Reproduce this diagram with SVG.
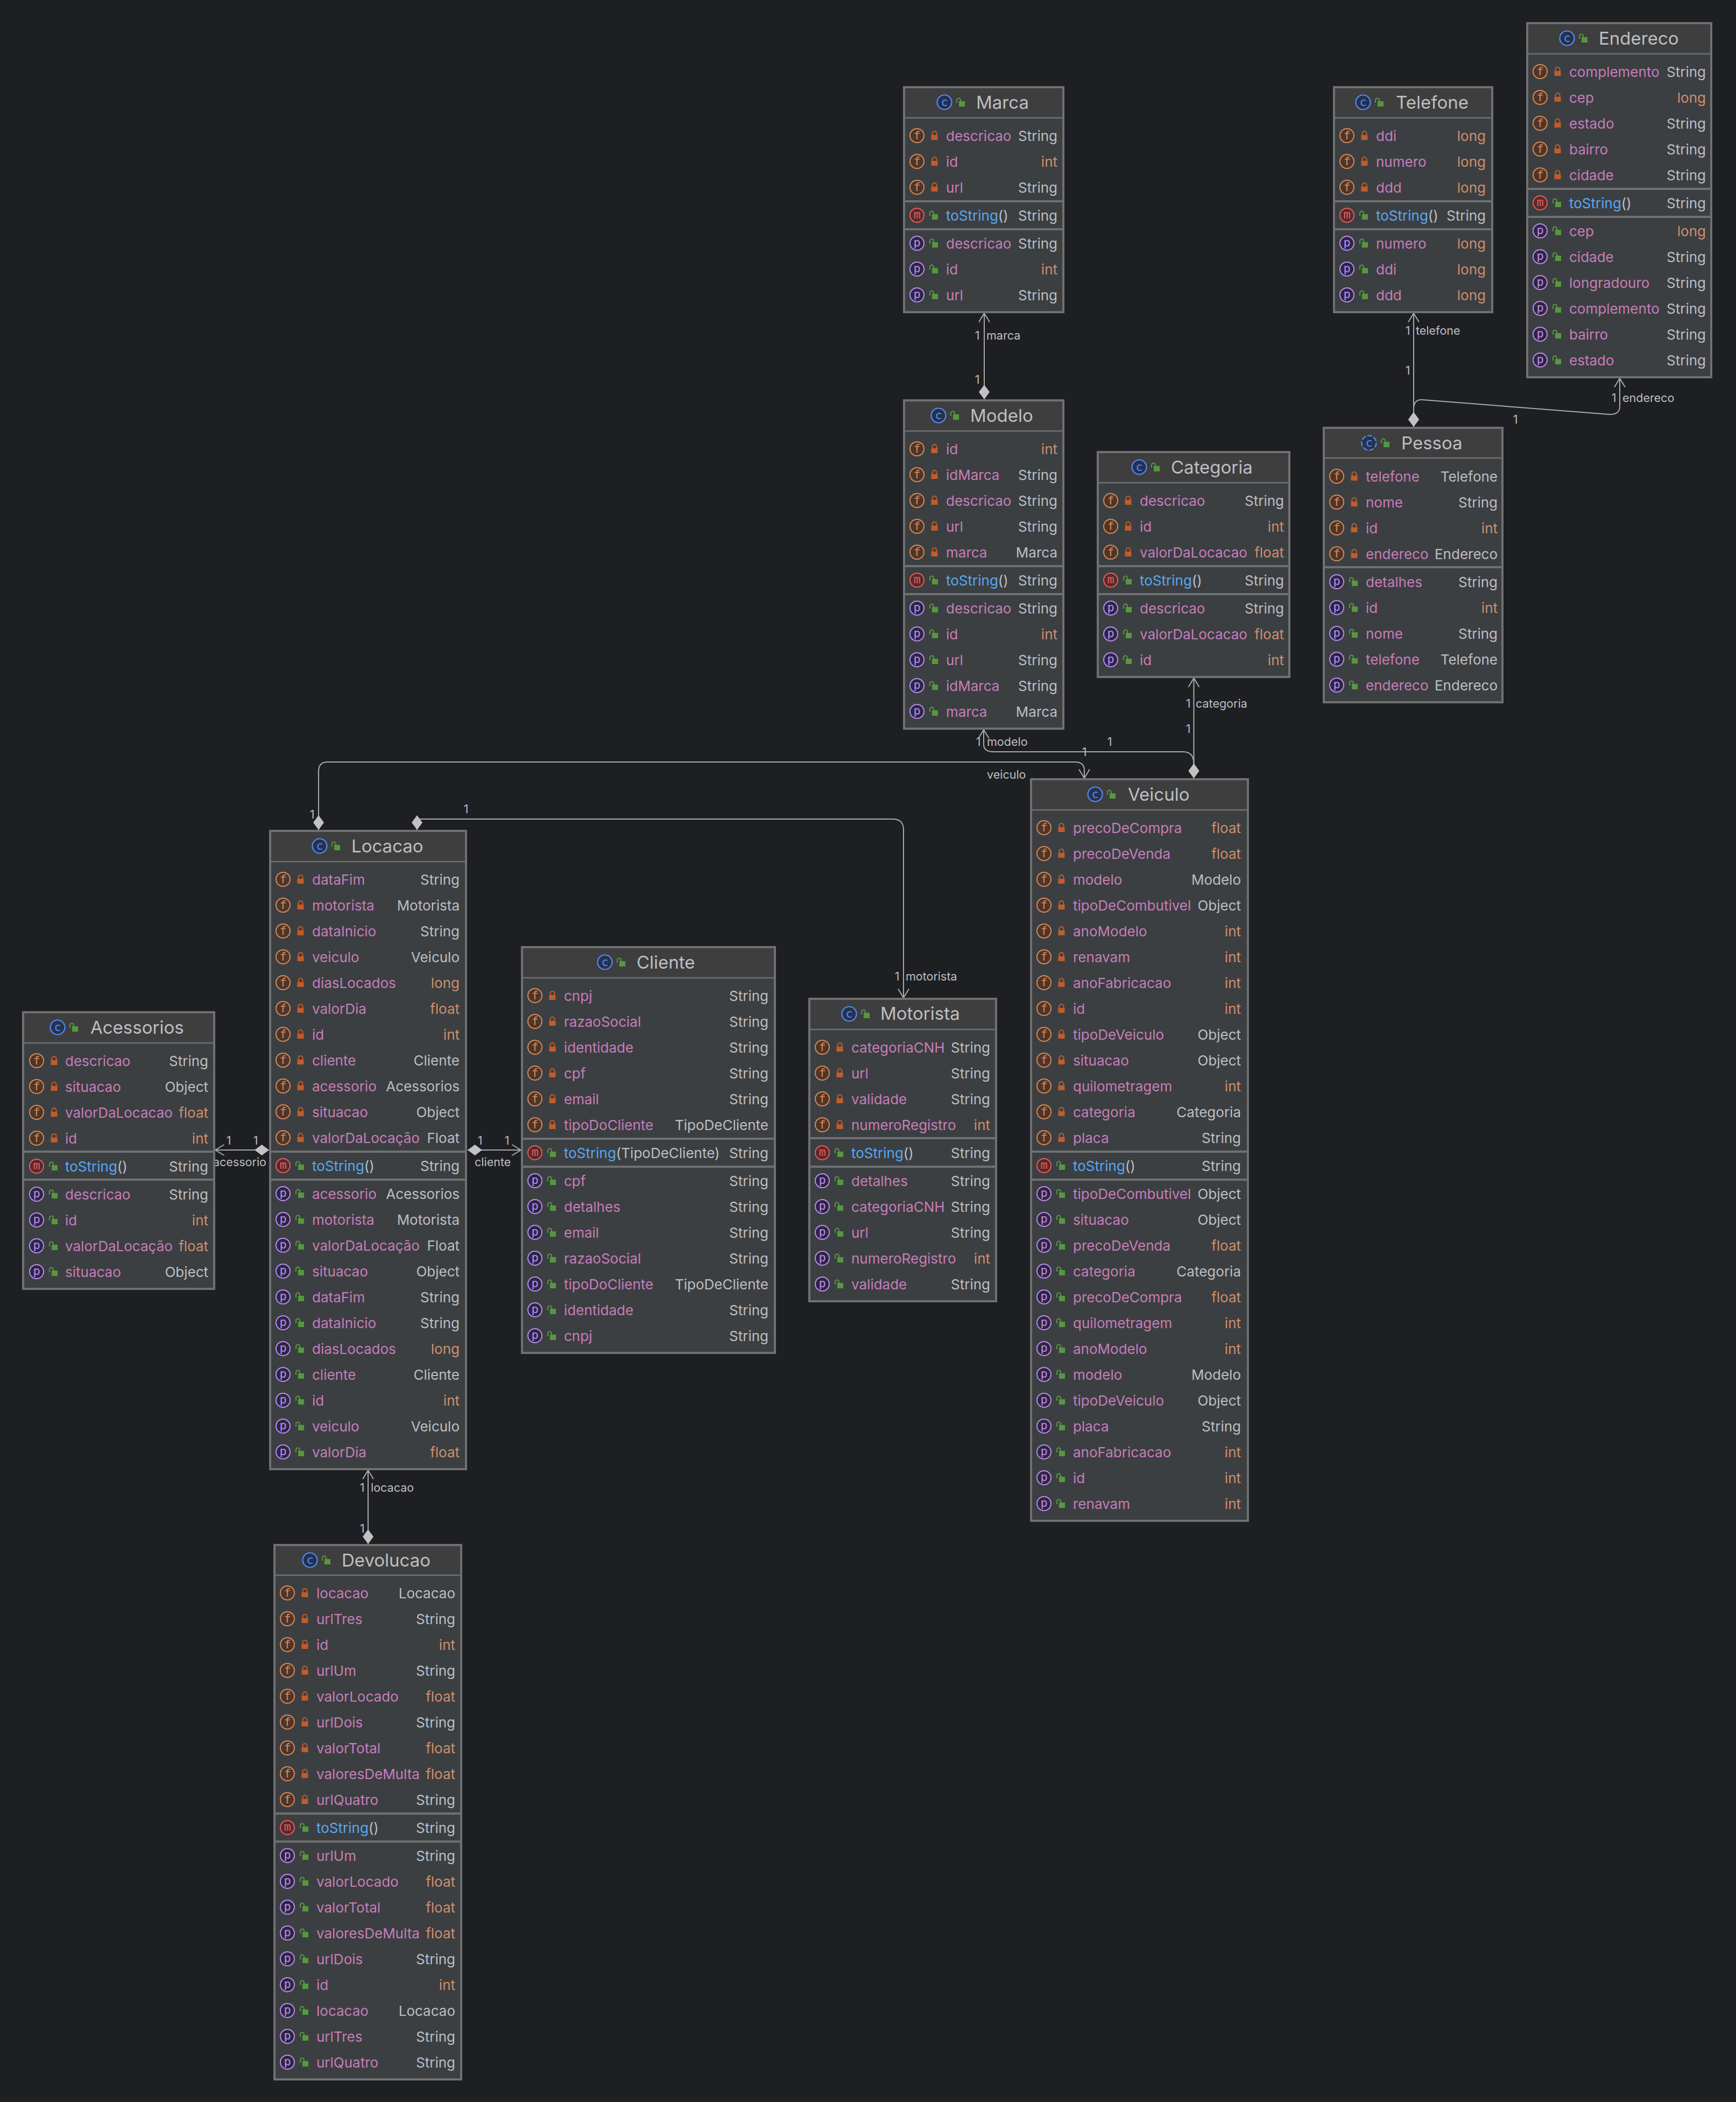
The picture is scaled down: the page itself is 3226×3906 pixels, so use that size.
<svg xmlns="http://www.w3.org/2000/svg" width="3226" height="3906" viewBox="0 0 3226 3906">
<style>
text{font-family:Inter,"Liberation Sans",sans-serif}
.b{fill:#3c3f41;stroke:#6f7072;stroke-width:4}
.h{fill:#3e3e3e}
.s{stroke:#6f7072;stroke-width:4;fill:none}
.s0{stroke:#6f7072;stroke-width:2.5;fill:none}
.ti{font-size:33px;fill:#bcbec4}
.n{font-size:26px;fill:#c77dbb}
.f{font-size:26px;fill:#56a8f5}
.pa{fill:#bcbec4}
.t{font-size:26px;fill:#bcbec4;text-anchor:end}
.o{font-size:26px;fill:#cf8e6d;text-anchor:end}
.l{font-size:21.5px;fill:#bcbec4}
.c{text-anchor:middle}
.ic{font-family:"DejaVu Sans Mono",monospace;font-size:22px;text-anchor:middle}
.e{fill:none;stroke:#a9aaac;stroke-width:2;marker-start:url(#ar);marker-end:url(#di)}
</style>
<defs>
<marker id="ar" markerUnits="userSpaceOnUse" markerWidth="19" markerHeight="24" refX="17.5" refY="12" orient="auto-start-reverse"><path d="M1 2 L17.5 12 L1 22" fill="none" stroke="#a9aaac" stroke-width="2"/></marker>
<marker id="di" markerUnits="userSpaceOnUse" markerWidth="28" markerHeight="22" refX="27" refY="11" orient="auto"><polygon points="0,11 13.5,1 27,11 13.5,21" fill="#c2c2c2"/></marker>
<g id="lock"><rect x="-6" y="-1" width="12" height="9" fill="#c15c2b"/><path d="M-4 -1 V-4 A4 4 0 0 1 4 -4 V-1" fill="none" stroke="#c15c2b" stroke-width="2"/></g>
<g id="un"><rect x="-3" y="-2" width="11" height="10" fill="#55983f"/><path d="M-7 1 V-4 A3.5 3.5 0 0 1 0 -4 V-2" fill="none" stroke="#55983f" stroke-width="2"/></g>
<g id="fr"><circle cx="26" cy="0" r="13" fill="#4f3529" stroke="#d28a5c" stroke-width="2"/><text class="ic" x="26" y="7" fill="#d28a5c">f</text><use href="#lock" x="58.5"/></g>
<g id="mr"><circle cx="26" cy="0" r="13" fill="#562a2c" stroke="#e55c5c" stroke-width="2"/><text class="ic" x="26" y="6" fill="#e55c5c">m</text><use href="#un" x="57"/></g>
<g id="pr"><circle cx="26" cy="0" r="13" fill="#2f2541" stroke="#b88cf0" stroke-width="2"/><text class="ic" x="26" y="6" fill="#b88cf0">p</text><use href="#un" x="57"/></g>
<g id="cl"><circle r="13.5" fill="#25324d" stroke="#548af7" stroke-width="2.2"/><text class="ic" y="7" fill="#548af7">c</text><use href="#un" x="30"/></g>
<g id="ab"><circle r="13.5" fill="#25324d" stroke="#548af7" stroke-width="2.2" stroke-dasharray="9 3"/><text class="ic" y="7" fill="#548af7">c</text><use href="#un" x="30"/></g>
</defs>
<rect width="3226" height="3906" fill="#1e1f22"/>
<g id="connectors">
<path class="e" d="M1829 582 V742"/>
<path class="e" d="M2218.5 1260 V1446"/>
<path class="e" d="M1828 1356 V1383 Q1828 1397 1846 1397 H2199 Q2218.5 1397 2218.5 1420 V1446"/>
<path class="e" d="M2015 1446 V1432 Q2015 1416 1998 1416 H608 Q592 1416 592 1434 V1542"/>
<path class="e" d="M1679 1854 V1542 Q1679 1522 1659 1522 H775 V1542"/>
<path class="e" d="M2627 582 V793"/>
<path class="e" d="M3010 703 V755 Q3010 771 2990 770 L2645 743 Q2627 741 2627 760 V793"/>
<path class="e" d="M400 2137 H500"/>
<path class="e" d="M968 2137 H869"/>
<path class="e" d="M684 2732 V2869"/>
<text class="l c" x="1816" y="631">1</text><text class="l" x="1833" y="631">marca</text><text class="l c" x="1816" y="713">1</text>
<text class="l c" x="2208" y="1315">1</text><text class="l" x="2222" y="1315">categoria</text><text class="l c" x="2208" y="1362">1</text>
<text class="l c" x="1818" y="1386">1</text><text class="l" x="1834" y="1386">modelo</text><text class="l c" x="2062" y="1386">1</text>
<text class="l c" x="2015" y="1405">1</text><text class="l" x="1834" y="1447">veiculo</text><text class="l c" x="580" y="1521">1</text>
<text class="l c" x="866" y="1511">1</text><text class="l c" x="1667" y="1822">1</text><text class="l" x="1683" y="1822">motorista</text>
<text class="l c" x="2616" y="622">1</text><text class="l" x="2631" y="622">telefone</text><text class="l c" x="2616" y="696">1</text>
<text class="l c" x="2999" y="747">1</text><text class="l" x="3015" y="747">endereco</text><text class="l c" x="2816" y="787">1</text>
<text class="l c" x="425" y="2127">1</text><text class="l c" x="475" y="2127">1</text><text class="l" x="396" y="2167">acessorio</text>
<text class="l c" x="892" y="2127">1</text><text class="l c" x="942" y="2127">1</text><text class="l" x="882" y="2167">cliente</text>
<text class="l c" x="673" y="2772">1</text><text class="l" x="689" y="2772">locacao</text><text class="l c" x="673" y="2848">1</text>
</g>
<g id="marca"><rect class="b" x="1680" y="162" width="296" height="418"/><rect class="h" x="1682" y="164" width="292" height="55"/><path class="s0" d="M1680 219 H1976"/><path class="s" d="M1680 374 H1976 M1680 426 H1976"/>
<use href="#cl" x="1755" y="190"/><text class="ti" x="1814" y="202">Marca</text>
<use href="#fr" x="1678" y="252"/><text class="n" x="1758" y="262">descricao</text><text class="t" x="1965" y="262">String</text>
<use href="#fr" x="1678" y="300"/><text class="n" x="1758" y="310">id</text><text class="o" x="1965" y="310">int</text>
<use href="#fr" x="1678" y="348"/><text class="n" x="1758" y="358">url</text><text class="t" x="1965" y="358">String</text>
<use href="#mr" x="1678" y="400"/><text class="f" x="1758" y="410">toString<tspan class="pa">()</tspan></text><text class="t" x="1965" y="410">String</text>
<use href="#pr" x="1678" y="452"/><text class="n" x="1758" y="462">descricao</text><text class="t" x="1965" y="462">String</text>
<use href="#pr" x="1678" y="500"/><text class="n" x="1758" y="510">id</text><text class="o" x="1965" y="510">int</text>
<use href="#pr" x="1678" y="548"/><text class="n" x="1758" y="558">url</text><text class="t" x="1965" y="558">String</text>
</g>
<g id="modelo"><rect class="b" x="1680" y="744" width="296" height="610"/><rect class="h" x="1682" y="746" width="292" height="55"/><path class="s0" d="M1680 801 H1976"/><path class="s" d="M1680 1052 H1976 M1680 1104 H1976"/>
<use href="#cl" x="1744" y="772"/><text class="ti" x="1803" y="784">Modelo</text>
<use href="#fr" x="1678" y="834"/><text class="n" x="1758" y="844">id</text><text class="o" x="1965" y="844">int</text>
<use href="#fr" x="1678" y="882"/><text class="n" x="1758" y="892">idMarca</text><text class="t" x="1965" y="892">String</text>
<use href="#fr" x="1678" y="930"/><text class="n" x="1758" y="940">descricao</text><text class="t" x="1965" y="940">String</text>
<use href="#fr" x="1678" y="978"/><text class="n" x="1758" y="988">url</text><text class="t" x="1965" y="988">String</text>
<use href="#fr" x="1678" y="1026"/><text class="n" x="1758" y="1036">marca</text><text class="t" x="1965" y="1036">Marca</text>
<use href="#mr" x="1678" y="1078"/><text class="f" x="1758" y="1088">toString<tspan class="pa">()</tspan></text><text class="t" x="1965" y="1088">String</text>
<use href="#pr" x="1678" y="1130"/><text class="n" x="1758" y="1140">descricao</text><text class="t" x="1965" y="1140">String</text>
<use href="#pr" x="1678" y="1178"/><text class="n" x="1758" y="1188">id</text><text class="o" x="1965" y="1188">int</text>
<use href="#pr" x="1678" y="1226"/><text class="n" x="1758" y="1236">url</text><text class="t" x="1965" y="1236">String</text>
<use href="#pr" x="1678" y="1274"/><text class="n" x="1758" y="1284">idMarca</text><text class="t" x="1965" y="1284">String</text>
<use href="#pr" x="1678" y="1322"/><text class="n" x="1758" y="1332">marca</text><text class="t" x="1965" y="1332">Marca</text>
</g>
<g id="categoria"><rect class="b" x="2040" y="840" width="356" height="418"/><rect class="h" x="2042" y="842" width="352" height="55"/><path class="s0" d="M2040 897 H2396"/><path class="s" d="M2040 1052 H2396 M2040 1104 H2396"/>
<use href="#cl" x="2117" y="868"/><text class="ti" x="2176" y="880">Categoria</text>
<use href="#fr" x="2038" y="930"/><text class="n" x="2118" y="940">descricao</text><text class="t" x="2386" y="940">String</text>
<use href="#fr" x="2038" y="978"/><text class="n" x="2118" y="988">id</text><text class="o" x="2386" y="988">int</text>
<use href="#fr" x="2038" y="1026"/><text class="n" x="2118" y="1036">valorDaLocacao</text><text class="o" x="2386" y="1036">float</text>
<use href="#mr" x="2038" y="1078"/><text class="f" x="2118" y="1088">toString<tspan class="pa">()</tspan></text><text class="t" x="2386" y="1088">String</text>
<use href="#pr" x="2038" y="1130"/><text class="n" x="2118" y="1140">descricao</text><text class="t" x="2386" y="1140">String</text>
<use href="#pr" x="2038" y="1178"/><text class="n" x="2118" y="1188">valorDaLocacao</text><text class="o" x="2386" y="1188">float</text>
<use href="#pr" x="2038" y="1226"/><text class="n" x="2118" y="1236">id</text><text class="o" x="2386" y="1236">int</text>
</g>
<g id="telefone"><rect class="b" x="2479" y="162" width="294" height="418"/><rect class="h" x="2481" y="164" width="290" height="55"/><path class="s0" d="M2479 219 H2773"/><path class="s" d="M2479 374 H2773 M2479 426 H2773"/>
<use href="#cl" x="2533" y="190"/><text class="ti" x="2594" y="202">Telefone</text>
<use href="#fr" x="2477" y="252"/><text class="n" x="2557" y="262">ddi</text><text class="o" x="2761" y="262">long</text>
<use href="#fr" x="2477" y="300"/><text class="n" x="2557" y="310">numero</text><text class="o" x="2761" y="310">long</text>
<use href="#fr" x="2477" y="348"/><text class="n" x="2557" y="358">ddd</text><text class="o" x="2761" y="358">long</text>
<use href="#mr" x="2477" y="400"/><text class="f" x="2557" y="410">toString<tspan class="pa">()</tspan></text><text class="t" x="2761" y="410">String</text>
<use href="#pr" x="2477" y="452"/><text class="n" x="2557" y="462">numero</text><text class="o" x="2761" y="462">long</text>
<use href="#pr" x="2477" y="500"/><text class="n" x="2557" y="510">ddi</text><text class="o" x="2761" y="510">long</text>
<use href="#pr" x="2477" y="548"/><text class="n" x="2557" y="558">ddd</text><text class="o" x="2761" y="558">long</text>
</g>
<g id="endereco"><rect class="b" x="2838" y="43" width="342" height="658"/><rect class="h" x="2840" y="45" width="338" height="55"/><path class="s0" d="M2838 100 H3180"/><path class="s" d="M2838 351 H3180 M2838 403 H3180"/>
<use href="#cl" x="2912" y="71"/><text class="ti" x="2971" y="83">Endereco</text>
<use href="#fr" x="2836" y="133"/><text class="n" x="2916" y="143">complemento</text><text class="t" x="3170" y="143">String</text>
<use href="#fr" x="2836" y="181"/><text class="n" x="2916" y="191">cep</text><text class="o" x="3170" y="191">long</text>
<use href="#fr" x="2836" y="229"/><text class="n" x="2916" y="239">estado</text><text class="t" x="3170" y="239">String</text>
<use href="#fr" x="2836" y="277"/><text class="n" x="2916" y="287">bairro</text><text class="t" x="3170" y="287">String</text>
<use href="#fr" x="2836" y="325"/><text class="n" x="2916" y="335">cidade</text><text class="t" x="3170" y="335">String</text>
<use href="#mr" x="2836" y="377"/><text class="f" x="2916" y="387">toString<tspan class="pa">()</tspan></text><text class="t" x="3170" y="387">String</text>
<use href="#pr" x="2836" y="429"/><text class="n" x="2916" y="439">cep</text><text class="o" x="3170" y="439">long</text>
<use href="#pr" x="2836" y="477"/><text class="n" x="2916" y="487">cidade</text><text class="t" x="3170" y="487">String</text>
<use href="#pr" x="2836" y="525"/><text class="n" x="2916" y="535">longradouro</text><text class="t" x="3170" y="535">String</text>
<use href="#pr" x="2836" y="573"/><text class="n" x="2916" y="583">complemento</text><text class="t" x="3170" y="583">String</text>
<use href="#pr" x="2836" y="621"/><text class="n" x="2916" y="631">bairro</text><text class="t" x="3170" y="631">String</text>
<use href="#pr" x="2836" y="669"/><text class="n" x="2916" y="679">estado</text><text class="t" x="3170" y="679">String</text>
</g>
<g id="pessoa"><rect class="b" x="2460" y="795" width="332" height="510"/><rect class="h" x="2462" y="797" width="328" height="54"/><path class="s0" d="M2460 851 H2792"/><path class="s" d="M2460 1054 H2792"/>
<use href="#ab" x="2544" y="823"/><text class="ti" x="2604" y="835">Pessoa</text>
<use href="#fr" x="2458" y="885"/><text class="n" x="2538" y="895">telefone</text><text class="t" x="2783" y="895">Telefone</text>
<use href="#fr" x="2458" y="933"/><text class="n" x="2538" y="943">nome</text><text class="t" x="2783" y="943">String</text>
<use href="#fr" x="2458" y="981"/><text class="n" x="2538" y="991">id</text><text class="o" x="2783" y="991">int</text>
<use href="#fr" x="2458" y="1029"/><text class="n" x="2538" y="1039">endereco</text><text class="t" x="2783" y="1039">Endereco</text>
<use href="#pr" x="2458" y="1081"/><text class="n" x="2538" y="1091">detalhes</text><text class="t" x="2783" y="1091">String</text>
<use href="#pr" x="2458" y="1129"/><text class="n" x="2538" y="1139">id</text><text class="o" x="2783" y="1139">int</text>
<use href="#pr" x="2458" y="1177"/><text class="n" x="2538" y="1187">nome</text><text class="t" x="2783" y="1187">String</text>
<use href="#pr" x="2458" y="1225"/><text class="n" x="2538" y="1235">telefone</text><text class="t" x="2783" y="1235">Telefone</text>
<use href="#pr" x="2458" y="1273"/><text class="n" x="2538" y="1283">endereco</text><text class="t" x="2783" y="1283">Endereco</text>
</g>
<g id="veiculo"><rect class="b" x="1916" y="1448" width="403" height="1378"/><rect class="h" x="1918" y="1450" width="399" height="55"/><path class="s0" d="M1916 1505 H2319"/><path class="s" d="M1916 2140 H2319 M1916 2192 H2319"/>
<use href="#cl" x="2035" y="1476"/><text class="ti" x="2096" y="1488">Veiculo</text>
<use href="#fr" x="1914" y="1538"/><text class="n" x="1994" y="1548">precoDeCompra</text><text class="o" x="2306" y="1548">float</text>
<use href="#fr" x="1914" y="1586"/><text class="n" x="1994" y="1596">precoDeVenda</text><text class="o" x="2306" y="1596">float</text>
<use href="#fr" x="1914" y="1634"/><text class="n" x="1994" y="1644">modelo</text><text class="t" x="2306" y="1644">Modelo</text>
<use href="#fr" x="1914" y="1682"/><text class="n" x="1994" y="1692">tipoDeCombutivel</text><text class="t" x="2306" y="1692">Object</text>
<use href="#fr" x="1914" y="1730"/><text class="n" x="1994" y="1740">anoModelo</text><text class="o" x="2306" y="1740">int</text>
<use href="#fr" x="1914" y="1778"/><text class="n" x="1994" y="1788">renavam</text><text class="o" x="2306" y="1788">int</text>
<use href="#fr" x="1914" y="1826"/><text class="n" x="1994" y="1836">anoFabricacao</text><text class="o" x="2306" y="1836">int</text>
<use href="#fr" x="1914" y="1874"/><text class="n" x="1994" y="1884">id</text><text class="o" x="2306" y="1884">int</text>
<use href="#fr" x="1914" y="1922"/><text class="n" x="1994" y="1932">tipoDeVeiculo</text><text class="t" x="2306" y="1932">Object</text>
<use href="#fr" x="1914" y="1970"/><text class="n" x="1994" y="1980">situacao</text><text class="t" x="2306" y="1980">Object</text>
<use href="#fr" x="1914" y="2018"/><text class="n" x="1994" y="2028">quilometragem</text><text class="o" x="2306" y="2028">int</text>
<use href="#fr" x="1914" y="2066"/><text class="n" x="1994" y="2076">categoria</text><text class="t" x="2306" y="2076">Categoria</text>
<use href="#fr" x="1914" y="2114"/><text class="n" x="1994" y="2124">placa</text><text class="t" x="2306" y="2124">String</text>
<use href="#mr" x="1914" y="2166"/><text class="f" x="1994" y="2176">toString<tspan class="pa">()</tspan></text><text class="t" x="2306" y="2176">String</text>
<use href="#pr" x="1914" y="2218"/><text class="n" x="1994" y="2228">tipoDeCombutivel</text><text class="t" x="2306" y="2228">Object</text>
<use href="#pr" x="1914" y="2266"/><text class="n" x="1994" y="2276">situacao</text><text class="t" x="2306" y="2276">Object</text>
<use href="#pr" x="1914" y="2314"/><text class="n" x="1994" y="2324">precoDeVenda</text><text class="o" x="2306" y="2324">float</text>
<use href="#pr" x="1914" y="2362"/><text class="n" x="1994" y="2372">categoria</text><text class="t" x="2306" y="2372">Categoria</text>
<use href="#pr" x="1914" y="2410"/><text class="n" x="1994" y="2420">precoDeCompra</text><text class="o" x="2306" y="2420">float</text>
<use href="#pr" x="1914" y="2458"/><text class="n" x="1994" y="2468">quilometragem</text><text class="o" x="2306" y="2468">int</text>
<use href="#pr" x="1914" y="2506"/><text class="n" x="1994" y="2516">anoModelo</text><text class="o" x="2306" y="2516">int</text>
<use href="#pr" x="1914" y="2554"/><text class="n" x="1994" y="2564">modelo</text><text class="t" x="2306" y="2564">Modelo</text>
<use href="#pr" x="1914" y="2602"/><text class="n" x="1994" y="2612">tipoDeVeiculo</text><text class="t" x="2306" y="2612">Object</text>
<use href="#pr" x="1914" y="2650"/><text class="n" x="1994" y="2660">placa</text><text class="t" x="2306" y="2660">String</text>
<use href="#pr" x="1914" y="2698"/><text class="n" x="1994" y="2708">anoFabricacao</text><text class="o" x="2306" y="2708">int</text>
<use href="#pr" x="1914" y="2746"/><text class="n" x="1994" y="2756">id</text><text class="o" x="2306" y="2756">int</text>
<use href="#pr" x="1914" y="2794"/><text class="n" x="1994" y="2804">renavam</text><text class="o" x="2306" y="2804">int</text>
</g>
<g id="locacao"><rect class="b" x="502" y="1544" width="364" height="1186"/><rect class="h" x="504" y="1546" width="360" height="55"/><path class="s0" d="M502 1601 H866"/><path class="s" d="M502 2140 H866 M502 2192 H866"/>
<use href="#cl" x="594" y="1572"/><text class="ti" x="653" y="1584">Locacao</text>
<use href="#fr" x="500" y="1634"/><text class="n" x="580" y="1644">dataFim</text><text class="t" x="854" y="1644">String</text>
<use href="#fr" x="500" y="1682"/><text class="n" x="580" y="1692">motorista</text><text class="t" x="854" y="1692">Motorista</text>
<use href="#fr" x="500" y="1730"/><text class="n" x="580" y="1740">dataInicio</text><text class="t" x="854" y="1740">String</text>
<use href="#fr" x="500" y="1778"/><text class="n" x="580" y="1788">veiculo</text><text class="t" x="854" y="1788">Veiculo</text>
<use href="#fr" x="500" y="1826"/><text class="n" x="580" y="1836">diasLocados</text><text class="o" x="854" y="1836">long</text>
<use href="#fr" x="500" y="1874"/><text class="n" x="580" y="1884">valorDia</text><text class="o" x="854" y="1884">float</text>
<use href="#fr" x="500" y="1922"/><text class="n" x="580" y="1932">id</text><text class="o" x="854" y="1932">int</text>
<use href="#fr" x="500" y="1970"/><text class="n" x="580" y="1980">cliente</text><text class="t" x="854" y="1980">Cliente</text>
<use href="#fr" x="500" y="2018"/><text class="n" x="580" y="2028">acessorio</text><text class="t" x="854" y="2028">Acessorios</text>
<use href="#fr" x="500" y="2066"/><text class="n" x="580" y="2076">situacao</text><text class="t" x="854" y="2076">Object</text>
<use href="#fr" x="500" y="2114"/><text class="n" x="580" y="2124">valorDaLocação</text><text class="t" x="854" y="2124">Float</text>
<use href="#mr" x="500" y="2166"/><text class="f" x="580" y="2176">toString<tspan class="pa">()</tspan></text><text class="t" x="854" y="2176">String</text>
<use href="#pr" x="500" y="2218"/><text class="n" x="580" y="2228">acessorio</text><text class="t" x="854" y="2228">Acessorios</text>
<use href="#pr" x="500" y="2266"/><text class="n" x="580" y="2276">motorista</text><text class="t" x="854" y="2276">Motorista</text>
<use href="#pr" x="500" y="2314"/><text class="n" x="580" y="2324">valorDaLocação</text><text class="t" x="854" y="2324">Float</text>
<use href="#pr" x="500" y="2362"/><text class="n" x="580" y="2372">situacao</text><text class="t" x="854" y="2372">Object</text>
<use href="#pr" x="500" y="2410"/><text class="n" x="580" y="2420">dataFim</text><text class="t" x="854" y="2420">String</text>
<use href="#pr" x="500" y="2458"/><text class="n" x="580" y="2468">dataInicio</text><text class="t" x="854" y="2468">String</text>
<use href="#pr" x="500" y="2506"/><text class="n" x="580" y="2516">diasLocados</text><text class="o" x="854" y="2516">long</text>
<use href="#pr" x="500" y="2554"/><text class="n" x="580" y="2564">cliente</text><text class="t" x="854" y="2564">Cliente</text>
<use href="#pr" x="500" y="2602"/><text class="n" x="580" y="2612">id</text><text class="o" x="854" y="2612">int</text>
<use href="#pr" x="500" y="2650"/><text class="n" x="580" y="2660">veiculo</text><text class="t" x="854" y="2660">Veiculo</text>
<use href="#pr" x="500" y="2698"/><text class="n" x="580" y="2708">valorDia</text><text class="o" x="854" y="2708">float</text>
</g>
<g id="cliente"><rect class="b" x="970" y="1760" width="470" height="754"/><rect class="h" x="972" y="1762" width="466" height="55"/><path class="s0" d="M970 1817 H1440"/><path class="s" d="M970 2116 H1440 M970 2168 H1440"/>
<use href="#cl" x="1124" y="1788"/><text class="ti" x="1183" y="1800">Cliente</text>
<use href="#fr" x="968" y="1850"/><text class="n" x="1048" y="1860">cnpj</text><text class="t" x="1428" y="1860">String</text>
<use href="#fr" x="968" y="1898"/><text class="n" x="1048" y="1908">razaoSocial</text><text class="t" x="1428" y="1908">String</text>
<use href="#fr" x="968" y="1946"/><text class="n" x="1048" y="1956">identidade</text><text class="t" x="1428" y="1956">String</text>
<use href="#fr" x="968" y="1994"/><text class="n" x="1048" y="2004">cpf</text><text class="t" x="1428" y="2004">String</text>
<use href="#fr" x="968" y="2042"/><text class="n" x="1048" y="2052">email</text><text class="t" x="1428" y="2052">String</text>
<use href="#fr" x="968" y="2090"/><text class="n" x="1048" y="2100">tipoDoCliente</text><text class="t" x="1428" y="2100">TipoDeCliente</text>
<use href="#mr" x="968" y="2142"/><text class="f" x="1048" y="2152">toString<tspan class="pa">(TipoDeCliente)</tspan></text><text class="t" x="1428" y="2152">String</text>
<use href="#pr" x="968" y="2194"/><text class="n" x="1048" y="2204">cpf</text><text class="t" x="1428" y="2204">String</text>
<use href="#pr" x="968" y="2242"/><text class="n" x="1048" y="2252">detalhes</text><text class="t" x="1428" y="2252">String</text>
<use href="#pr" x="968" y="2290"/><text class="n" x="1048" y="2300">email</text><text class="t" x="1428" y="2300">String</text>
<use href="#pr" x="968" y="2338"/><text class="n" x="1048" y="2348">razaoSocial</text><text class="t" x="1428" y="2348">String</text>
<use href="#pr" x="968" y="2386"/><text class="n" x="1048" y="2396">tipoDoCliente</text><text class="t" x="1428" y="2396">TipoDeCliente</text>
<use href="#pr" x="968" y="2434"/><text class="n" x="1048" y="2444">identidade</text><text class="t" x="1428" y="2444">String</text>
<use href="#pr" x="968" y="2482"/><text class="n" x="1048" y="2492">cnpj</text><text class="t" x="1428" y="2492">String</text>
</g>
<g id="motorista"><rect class="b" x="1504" y="1856" width="347" height="562"/><rect class="h" x="1506" y="1858" width="343" height="55"/><path class="s0" d="M1504 1913 H1851"/><path class="s" d="M1504 2115 H1851 M1504 2168 H1851"/>
<use href="#cl" x="1578" y="1884"/><text class="ti" x="1636" y="1895">Motorista</text>
<use href="#fr" x="1502" y="1946"/><text class="n" x="1582" y="1956">categoriaCNH</text><text class="t" x="1840" y="1956">String</text>
<use href="#fr" x="1502" y="1994"/><text class="n" x="1582" y="2004">url</text><text class="t" x="1840" y="2004">String</text>
<use href="#fr" x="1502" y="2042"/><text class="n" x="1582" y="2052">validade</text><text class="t" x="1840" y="2052">String</text>
<use href="#fr" x="1502" y="2090"/><text class="n" x="1582" y="2100">numeroRegistro</text><text class="o" x="1840" y="2100">int</text>
<use href="#mr" x="1502" y="2142"/><text class="f" x="1582" y="2152">toString<tspan class="pa">()</tspan></text><text class="t" x="1840" y="2152">String</text>
<use href="#pr" x="1502" y="2194"/><text class="n" x="1582" y="2204">detalhes</text><text class="t" x="1840" y="2204">String</text>
<use href="#pr" x="1502" y="2242"/><text class="n" x="1582" y="2252">categoriaCNH</text><text class="t" x="1840" y="2252">String</text>
<use href="#pr" x="1502" y="2290"/><text class="n" x="1582" y="2300">url</text><text class="t" x="1840" y="2300">String</text>
<use href="#pr" x="1502" y="2338"/><text class="n" x="1582" y="2348">numeroRegistro</text><text class="o" x="1840" y="2348">int</text>
<use href="#pr" x="1502" y="2386"/><text class="n" x="1582" y="2396">validade</text><text class="t" x="1840" y="2396">String</text>
</g>
<g id="acessorios"><rect class="b" x="43" y="1881" width="355" height="514"/><rect class="h" x="45" y="1883" width="351" height="55"/><path class="s0" d="M43 1938 H398"/><path class="s" d="M43 2140 H398 M43 2192 H398"/>
<use href="#cl" x="107" y="1909"/><text class="ti" x="168" y="1921">Acessorios</text>
<use href="#fr" x="42" y="1971"/><text class="n" x="121" y="1981">descricao</text><text class="t" x="387" y="1981">String</text>
<use href="#fr" x="42" y="2019"/><text class="n" x="121" y="2029">situacao</text><text class="t" x="387" y="2029">Object</text>
<use href="#fr" x="42" y="2067"/><text class="n" x="121" y="2077">valorDaLocacao</text><text class="o" x="387" y="2077">float</text>
<use href="#fr" x="42" y="2115"/><text class="n" x="121" y="2125">id</text><text class="o" x="387" y="2125">int</text>
<use href="#mr" x="42" y="2167"/><text class="f" x="121" y="2177">toString<tspan class="pa">()</tspan></text><text class="t" x="387" y="2177">String</text>
<use href="#pr" x="42" y="2219"/><text class="n" x="121" y="2229">descricao</text><text class="t" x="387" y="2229">String</text>
<use href="#pr" x="42" y="2267"/><text class="n" x="121" y="2277">id</text><text class="o" x="387" y="2277">int</text>
<use href="#pr" x="42" y="2315"/><text class="n" x="121" y="2325">valorDaLocação</text><text class="o" x="387" y="2325">float</text>
<use href="#pr" x="42" y="2363"/><text class="n" x="121" y="2373">situacao</text><text class="t" x="387" y="2373">Object</text>
</g>
<g id="devolucao"><rect class="b" x="510" y="2871" width="347" height="993"/><rect class="h" x="512" y="2873" width="343" height="54"/><path class="s0" d="M510 2927 H857"/><path class="s" d="M510 3370 H857 M510 3422 H857"/>
<use href="#cl" x="576" y="2899"/><text class="ti" x="635" y="2911">Devolucao</text>
<use href="#fr" x="508" y="2960"/><text class="n" x="588" y="2970">locacao</text><text class="t" x="846" y="2970">Locacao</text>
<use href="#fr" x="508" y="3008"/><text class="n" x="588" y="3018">urlTres</text><text class="t" x="846" y="3018">String</text>
<use href="#fr" x="508" y="3056"/><text class="n" x="588" y="3066">id</text><text class="o" x="846" y="3066">int</text>
<use href="#fr" x="508" y="3104"/><text class="n" x="588" y="3114">urlUm</text><text class="t" x="846" y="3114">String</text>
<use href="#fr" x="508" y="3152"/><text class="n" x="588" y="3162">valorLocado</text><text class="o" x="846" y="3162">float</text>
<use href="#fr" x="508" y="3200"/><text class="n" x="588" y="3210">urlDois</text><text class="t" x="846" y="3210">String</text>
<use href="#fr" x="508" y="3248"/><text class="n" x="588" y="3258">valorTotal</text><text class="o" x="846" y="3258">float</text>
<use href="#fr" x="508" y="3296"/><text class="n" x="588" y="3306">valoresDeMulta</text><text class="o" x="846" y="3306">float</text>
<use href="#fr" x="508" y="3344"/><text class="n" x="588" y="3354">urlQuatro</text><text class="t" x="846" y="3354">String</text>
<use href="#mr" x="508" y="3396"/><text class="f" x="588" y="3406">toString<tspan class="pa">()</tspan></text><text class="t" x="846" y="3406">String</text>
<use href="#pr" x="508" y="3448"/><text class="n" x="588" y="3458">urlUm</text><text class="t" x="846" y="3458">String</text>
<use href="#pr" x="508" y="3496"/><text class="n" x="588" y="3506">valorLocado</text><text class="o" x="846" y="3506">float</text>
<use href="#pr" x="508" y="3544"/><text class="n" x="588" y="3554">valorTotal</text><text class="o" x="846" y="3554">float</text>
<use href="#pr" x="508" y="3592"/><text class="n" x="588" y="3602">valoresDeMulta</text><text class="o" x="846" y="3602">float</text>
<use href="#pr" x="508" y="3640"/><text class="n" x="588" y="3650">urlDois</text><text class="t" x="846" y="3650">String</text>
<use href="#pr" x="508" y="3688"/><text class="n" x="588" y="3698">id</text><text class="o" x="846" y="3698">int</text>
<use href="#pr" x="508" y="3736"/><text class="n" x="588" y="3746">locacao</text><text class="t" x="846" y="3746">Locacao</text>
<use href="#pr" x="508" y="3784"/><text class="n" x="588" y="3794">urlTres</text><text class="t" x="846" y="3794">String</text>
<use href="#pr" x="508" y="3832"/><text class="n" x="588" y="3842">urlQuatro</text><text class="t" x="846" y="3842">String</text>
</g>
</svg>
